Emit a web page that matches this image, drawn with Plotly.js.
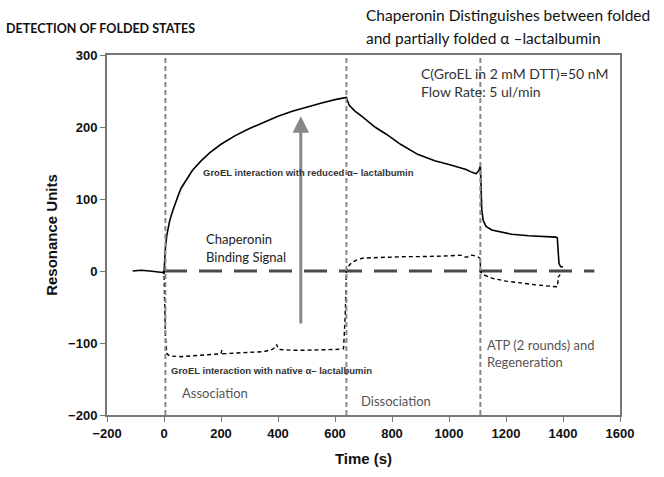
<!DOCTYPE html>
<html>
<head>
<meta charset="utf-8">
<script src="https://cdn.plot.ly/plotly-3.0.1.min.js"></script>
<style>
  html, body { margin: 0; padding: 0; background: #fff; }
  #chart { width: 664px; height: 477px; }
</style>
</head>
<body>
<div id="chart"></div>
<script>
// Sensorgram: GroEL binding to reduced alpha-lactalbumin (solid)
var reducedTime = [-110, -80, -50, -20, -5, 0, 2, 5, 10, 15, 20, 30, 40, 50, 60, 80, 100, 130, 160, 200,
    250, 300, 350, 400, 450, 500, 550, 600, 640,
    650, 670, 700, 740, 780, 830, 890, 950, 1000, 1020, 1040, 1060, 1075, 1095, 1100, 1105, 1110,
    1112, 1115, 1120, 1130, 1150, 1180, 1220, 1280, 1340, 1375, 1380, 1383, 1386, 1392, 1400];
var reducedRU = [0, 1, 0, -1, -2, -3, 15, 32, 50, 60, 70, 83, 95, 105, 115, 128, 140, 153, 164, 176,
    188, 198, 207, 215, 222, 228, 233, 238, 241,
    230, 222, 213, 200, 190, 176, 162, 153, 148, 146, 143, 141, 138, 135, 137, 140, 146,
    110, 85, 70, 62, 57, 54, 51, 49, 48, 47, 46, 30, 10, 6, 6];

// GroEL binding to native alpha-lactalbumin (dashed)
var nativeTime = [-5, 0, 2, 5, 10, 20, 60, 100, 150, 200, 203, 206, 250, 300, 350, 380, 390, 395, 400, 405,
    450, 500, 550, 600, 630, 636, 640, 645, 650, 660, 680, 700, 750, 800, 850, 900, 950, 1000, 1040,
    1060, 1080, 1100, 1108, 1112, 1120, 1150, 1200, 1250, 1300, 1350, 1380, 1384, 1390];
var nativeRU = [-2, 0, -40, -90, -115, -118, -119, -118, -117, -115, -110, -115, -114, -113, -112, -109, -106, -102, -107, -109,
    -110, -110, -110, -109, -108, -60, 0, 5, 8, 12, 16, 18, 19, 19, 20, 20, 20, 21, 22,
    19, 22, 20, 18, -2, -5, -10, -14, -17, -19, -21, -22, -8, -5];

// phase boundaries (s) and the zero reference line
var phaseTimes = [5, 640, 1110];
var baselineTime = [0, 1510];
var baselineRU = [0, 0];

// binding signal arrow (time, from RU, to RU)
var arrowTime = 480;
var arrowFrom = -75;
var arrowTo = 215;

var xTicks = [-200, 0, 200, 400, 600, 800, 1000, 1200, 1400, 1600];
var yTicks = [-200, -100, 0, 100, 200, 300];

var traces = [
    {
        x: baselineTime, y: baselineRU, mode: 'lines', type: 'scatter',
        line: { color: '#4a4a4a', width: 3.2, dash: '23px,12px' }, hoverinfo: 'skip'
    },
    {
        x: reducedTime, y: reducedRU, mode: 'lines', type: 'scatter',
        line: { color: '#000', width: 1.6 }
    },
    {
        x: nativeTime, y: nativeRU, mode: 'lines', type: 'scatter',
        line: { color: '#000', width: 1.4, dash: '4px,3px' }
    }
];

var shapes = phaseTimes.map(function(t) {
    return {
        type: 'line', xref: 'x', yref: 'paper', x0: t, x1: t, y0: 0, y1: 1,
        line: { color: '#888', width: 2, dash: '5px,3px' }
    };
});

var labelFont = { family: 'Lato, sans-serif', size: 13, color: '#555' };
var smallFont = { family: 'Liberation Sans, Arial, sans-serif', size: 9.5, color: '#333', weight: 'bold' };
var signalFont = { family: 'Lato, sans-serif', size: 13, color: '#222' };
var titleFont = { family: 'Lato, sans-serif', size: 15.5, color: '#111' };

var annotations = [
    {
        x: arrowTime, y: arrowTo, ax: arrowTime, ay: arrowFrom, axref: 'x', ayref: 'y',
        xref: 'x', yref: 'y', showarrow: true, arrowhead: 2, arrowsize: 1.1, arrowwidth: 3,
        arrowcolor: '#888', text: ''
    },
    { x: 129, y: 137, xref: 'x', yref: 'y', text: 'GroEL interaction with reduced \u03b1\u2013 lactalbumin',
      showarrow: false, xanchor: 'left', font: smallFont },
    { x: 18, y: -138, xref: 'x', yref: 'y', text: 'GroEL interaction with native \u03b1\u2013 lactalbumin',
      showarrow: false, xanchor: 'left', font: smallFont },
    { x: 140, y: 44, xref: 'x', yref: 'y', text: 'Chaperonin',
      showarrow: false, xanchor: 'left', yanchor: 'middle', font: signalFont },
    { x: 140, y: 20, xref: 'x', yref: 'y', text: 'Binding Signal',
      showarrow: false, xanchor: 'left', yanchor: 'middle', font: signalFont },
    { x: 55, y: -170, xref: 'x', yref: 'y', text: 'Association', showarrow: false, xanchor: 'left', font: labelFont },
    { x: 685, y: -180, xref: 'x', yref: 'y', text: 'Dissociation', showarrow: false, xanchor: 'left', font: labelFont },
    { x: 1125, y: -114, xref: 'x', yref: 'y', text: 'ATP (2 rounds) and<br>Regeneration', showarrow: false,
      xanchor: 'left', align: 'left', font: labelFont },
    { x: 893, y: 262, xref: 'x', yref: 'y', text: 'C(GroEL in 2 mM DTT)=50 nM<br>Flow Rate: 5 ul/min', showarrow: false,
      xanchor: 'left', align: 'left', font: { family: 'Lato, sans-serif', size: 14, color: '#333' } },
    { xref: 'paper', yref: 'paper', x: -0.2, y: 1.075, text: 'DETECTION OF FOLDED STATES', showarrow: false,
      xanchor: 'left', yanchor: 'middle', font: { family: 'Lato, sans-serif', size: 12.5, color: '#111', weight: 'bold' } },
    { xref: 'paper', yref: 'paper', x: 0.5, y: 1.111, text: 'Chaperonin Distinguishes between folded',
      showarrow: false, xanchor: 'left', yanchor: 'middle', font: titleFont },
    { xref: 'paper', yref: 'paper', x: 0.5, y: 1.047, text: 'and partially folded \u03b1 \u2013lactalbumin',
      showarrow: false, xanchor: 'left', yanchor: 'middle', font: titleFont }
];

var tickFont = { family: 'Liberation Sans, Arial, sans-serif', size: 13, color: '#111', weight: 'bold' };

var layout = {
    width: 664,
    height: 477,
    margin: { l: 107, r: 44, t: 55, b: 62 },
    paper_bgcolor: '#fff',
    plot_bgcolor: '#fff',
    showlegend: false,
    xaxis: {
        range: [-200, 1600], tickvals: xTicks, ticks: 'outside', ticklen: 5, tickcolor: '#777',
        showline: true, linecolor: '#777', linewidth: 2, mirror: true, showgrid: false, zeroline: false,
        tickfont: tickFont,
        title: { text: 'Time (s)', standoff: 14, font: { family: 'Liberation Sans, Arial, sans-serif', size: 15, color: '#111', weight: 'bold' } }
    },
    yaxis: {
        range: [-200, 300], tickvals: yTicks, ticks: 'outside', ticklen: 5, tickcolor: '#777',
        showline: true, linecolor: '#777', linewidth: 2, mirror: true, showgrid: false, zeroline: false,
        tickfont: tickFont,
        title: { text: 'Resonance Units', standoff: 7, font: { family: 'Liberation Sans, Arial, sans-serif', size: 15, color: '#111', weight: 'bold' } }
    },
    shapes: shapes,
    annotations: annotations
};

Plotly.newPlot('chart', traces, layout, { staticPlot: true, displayModeBar: false });
</script>
</body>
</html>
